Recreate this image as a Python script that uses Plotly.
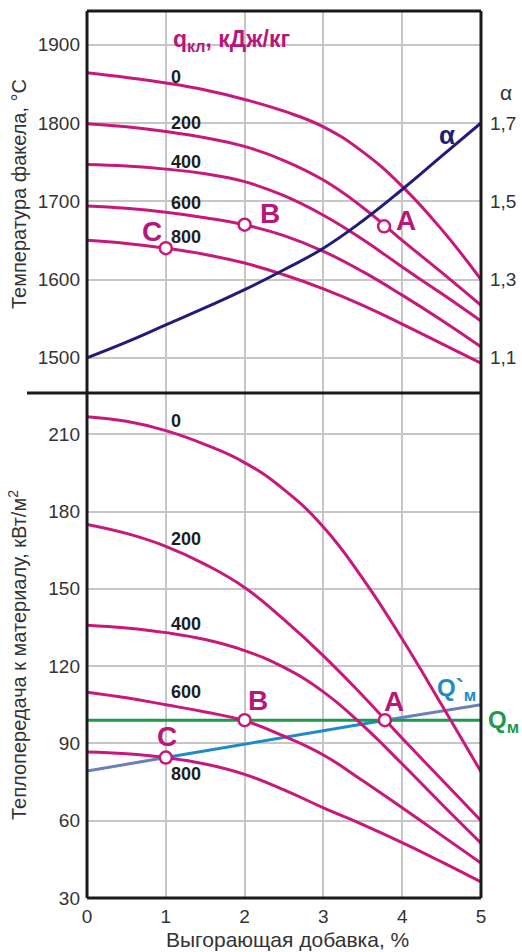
import plotly.graph_objects as go

# ---------------- data ----------------
x_pct = [0, 0.5, 1, 1.5, 2, 2.5, 3, 3.5, 4, 4.5, 5]
q_labels = ["0", "200", "400", "600", "800"]

# top panel: flame temperature, °C
T_q0 = [1864, 1858, 1851, 1842, 1830, 1815, 1795, 1763, 1719, 1664, 1600]
T_q200 = [1799, 1795, 1789, 1781, 1770, 1752, 1727, 1692, 1650, 1609, 1567]
T_q400 = [1747, 1745, 1741, 1735, 1725, 1707, 1682, 1651, 1616, 1582, 1547]
T_q600 = [1694, 1691, 1686, 1679, 1670, 1656, 1636, 1610, 1580, 1548, 1514]
T_q800 = [1650, 1646, 1640, 1632, 1621, 1606, 1588, 1567, 1543, 1518, 1493]
alpha = [1.10, 1.14, 1.184, 1.228, 1.274, 1.325, 1.38, 1.45, 1.53, 1.615, 1.70]

# bottom panel: heat transfer to material, kW/m2
Q_q0 = [216.8, 215, 211.4, 206, 199, 188.5, 174, 154, 130.5, 105, 79]
Q_q200 = [175, 171.5, 166.5, 159.5, 150.5, 138, 124, 108.5, 92, 76, 60]
Q_q400 = [135.9, 134.8, 133, 130.3, 126, 119.5, 110, 97, 82, 66.5, 51.3]
Q_q600 = [109.9, 107.7, 105, 102.2, 98.8, 92.8, 85.5, 75.5, 65, 54.3, 43.6]
Q_q800 = [86.7, 86, 84.5, 82, 78, 72, 65, 58.5, 51.5, 44, 36.2]

Qm_x = [0, 5]
Qm = [99, 99]
Qmp_x = [0, 1, 3.78, 5]
Qmp = [79.3, 84.5, 99, 105]

# points A, B, C
pt_names = ["A", "B", "C"]
pt_x_top = [3.77, 2.0, 1.0]
pt_T = [1668, 1670, 1640]
pt_x_bot = [3.78, 2.0, 1.0]
pt_Q = [99, 99, 84.5]

# ticks
x_ticks = [0, 1, 2, 3, 4, 5]
T_ticks = [1500, 1600, 1700, 1800, 1900]
Q_ticks = [30, 60, 90, 120, 150, 180, 210]
a_ticks = [1.1, 1.3, 1.5, 1.7]
a_ticktext = ["1,1", "1,3", "1,5", "1,7"]

# ---------------- styles ----------------
PINK = "#c8187c"
NAVY = "#221c78"
GREEN = "#1d9a4a"
BLUE = "#1f8ac8"
GREYBLUE = "#6c7fb8"
GRID = "#c6c6c6"
TXT = "#333333"
FONT = "Liberation Sans, Arial, sans-serif"

T_range = [1455, 1943]
a_range = [1.1 + (T_range[0] - 1500) * 0.002, 1.1 + (T_range[1] - 1500) * 0.002]
split = 505 / 887

fig = go.Figure()
spl = dict(shape="spline", smoothing=1.3)

# top panel curves
for T in [T_q0, T_q200, T_q400, T_q600, T_q800]:
    fig.add_trace(go.Scatter(x=x_pct, y=T, xaxis="x2", yaxis="y2", mode="lines",
                             line=dict(color=PINK, width=3, **spl), showlegend=False))
fig.add_trace(go.Scatter(x=x_pct, y=alpha, xaxis="x2", yaxis="y3", mode="lines",
                         line=dict(color=NAVY, width=3, **spl), showlegend=False))
fig.add_trace(go.Scatter(x=pt_x_top, y=pt_T, xaxis="x2", yaxis="y2", mode="markers",
                         marker=dict(size=12, color="white", line=dict(color=PINK, width=2.5)),
                         showlegend=False))

# bottom panel lines
fig.add_trace(go.Scatter(x=Qmp_x[0:2], y=Qmp[0:2], mode="lines",
                         line=dict(color=GREYBLUE, width=3), showlegend=False))
fig.add_trace(go.Scatter(x=Qmp_x[1:3], y=Qmp[1:3], mode="lines",
                         line=dict(color=BLUE, width=3), showlegend=False))
fig.add_trace(go.Scatter(x=Qmp_x[2:4], y=Qmp[2:4], mode="lines",
                         line=dict(color=GREYBLUE, width=3), showlegend=False))
fig.add_trace(go.Scatter(x=Qm_x, y=Qm, mode="lines",
                         line=dict(color=GREEN, width=3), showlegend=False))
for Q in [Q_q0, Q_q200, Q_q400, Q_q600, Q_q800]:
    fig.add_trace(go.Scatter(x=x_pct, y=Q, mode="lines",
                             line=dict(color=PINK, width=3, **spl), showlegend=False))
fig.add_trace(go.Scatter(x=pt_x_bot, y=pt_Q, mode="markers",
                         marker=dict(size=12, color="white", line=dict(color=PINK, width=2.5)),
                         showlegend=False))

# ---------------- annotations ----------------
ann = []
lab_font = dict(family=FONT, size=18, color="#1e1e1e")
top_lab_y = [1859, 1800, 1750, 1698, 1654]
bot_lab_y = [215.3, 169.2, 136.3, 109.8, 78.2]
for t, yt, yb in zip(q_labels, top_lab_y, bot_lab_y):
    ann.append(dict(x=1.04, y=yt, xref="x2", yref="y2", text="<b>%s</b>" % t, showarrow=False,
                    xanchor="left", yanchor="middle", font=lab_font))
    ann.append(dict(x=1.04, y=yb, xref="x", yref="y", text="<b>%s</b>" % t, showarrow=False,
                    xanchor="left", yanchor="middle", font=lab_font))

big = dict(family=FONT, size=28, color="#b8167a")
C = dict(xanchor="center", yanchor="middle", showarrow=False)
ann += [
    dict(x=4.05, y=1675, xref="x2", yref="y2", text="<b>A</b>", font=big, **C),
    dict(x=2.32, y=1684, xref="x2", yref="y2", text="<b>B</b>", font=big, **C),
    dict(x=0.82, y=1661, xref="x2", yref="y2", text="<b>C</b>", font=big, **C),
    dict(x=3.9, y=106.4, xref="x", yref="y", text="<b>A</b>", font=big, **C),
    dict(x=2.17, y=106.8, xref="x", yref="y", text="<b>B</b>", font=big, **C),
    dict(x=1.02, y=92.5, xref="x", yref="y", text="<b>C</b>", font=big, **C),
    dict(x=4.57, y=1784, xref="x2", yref="y2", text="<b>α</b>",
         font=dict(family=FONT, size=26, color=NAVY), **C),
    dict(x=1.06, y=1905, xref="x2", yref="y2", xanchor="left", yanchor="middle",
         text="<b>q<sub>кл</sub>, кДж/кг</b>", showarrow=False,
         font=dict(family=FONT, size=23, color="#b8167a")),
    dict(x=4.42, y=111, xref="x", yref="y", xanchor="left", yanchor="middle",
         text="<b>Q`<sub>м</sub></b>", showarrow=False,
         font=dict(family=FONT, size=24, color=BLUE)),
    dict(x=1.012, y=98.5, xref="paper", yref="y", xanchor="left", yanchor="middle",
         text="<b>Q<sub>м</sub></b>", showarrow=False,
         font=dict(family=FONT, size=24, color=GREEN)),
    dict(x=(506 - 87) / 394, y=(898 - 92) / 887, xref="paper", yref="paper",
         text="α", font=dict(family=FONT, size=21, color=TXT), **C),
    dict(x=(19 - 87) / 394, y=(898 - 194) / 887, xref="paper", yref="paper",
         text="Температура факела, °С", textangle=-90,
         font=dict(family=FONT, size=20, color=TXT), **C),
    dict(x=(17 - 87) / 394, y=(898 - 655) / 887, xref="paper", yref="paper",
         text="Теплопередача к материалу, кВт/м<sup>2</sup>", textangle=-90,
         font=dict(family=FONT, size=20, color=TXT), **C),
    dict(x=(287 - 87) / 394, y=(898 - 940) / 887, xref="paper", yref="paper",
         text="Выгорающая добавка, %",
         font=dict(family=FONT, size=21, color=TXT), **C),
]

# ---------------- frame ----------------
BK = "#1a1a1a"
shapes = [
    dict(type="line", xref="paper", yref="paper", x0=0, x1=0, y0=0, y1=1, line=dict(color=BK, width=3)),
    dict(type="line", xref="paper", yref="paper", x0=1, x1=1, y0=0, y1=1, line=dict(color=BK, width=3)),
    dict(type="line", xref="paper", yref="paper", x0=0, x1=1, y0=1, y1=1, line=dict(color=BK, width=3)),
    dict(type="line", xref="paper", yref="paper", x0=0, x1=1, y0=0, y1=0, line=dict(color=BK, width=3)),
    dict(type="line", xref="paper", yref="paper", x0=(27 - 87) / 394, x1=1, y0=split, y1=split,
         line=dict(color=BK, width=3)),
]

tickfont = dict(family=FONT, size=19, color=TXT)
common = dict(zeroline=False, showline=False, ticks="", automargin=False)
fig.update_layout(
    width=522, height=952,
    margin=dict(l=87, r=41, t=11, b=54, autoexpand=False),
    paper_bgcolor="white", plot_bgcolor="white",
    showlegend=False,
    annotations=ann, shapes=shapes,
    xaxis=dict(domain=[0, 1], range=[0, 5], tickvals=x_ticks, showgrid=True, gridcolor=GRID,
               gridwidth=1.5, tickfont=tickfont, ticklabelstandoff=5, **common),
    yaxis=dict(domain=[0, split], range=[30, 226], tickvals=Q_ticks, showgrid=True, gridcolor=GRID,
               gridwidth=1.5, tickfont=tickfont, ticklabelstandoff=6, **common),
    xaxis2=dict(domain=[0, 1], range=[0, 5], anchor="y2", tickvals=x_ticks, showticklabels=False,
                showgrid=True, gridcolor=GRID, gridwidth=1.5, **common),
    yaxis2=dict(domain=[split, 1], range=T_range, anchor="x2", tickvals=T_ticks, showgrid=True,
                gridcolor=GRID, gridwidth=1.5, tickfont=tickfont, ticklabelstandoff=6, **common),
    yaxis3=dict(domain=[split, 1], range=a_range, anchor="x2", overlaying="y2", side="right",
                tickvals=a_ticks, ticktext=a_ticktext, showgrid=False,
                tickfont=tickfont, ticklabelstandoff=8, **common),
)

fig.write_html("out.html", config={"displayModeBar": False})

# remove the default page margin so the figure sits at the window's top-left corner
with open("out.html", "r", encoding="utf-8") as f:
    html = f.read()
html = html.replace("<head>", "<head><style>html,body{margin:0;padding:0;overflow:hidden;}</style>", 1)
with open("out.html", "w", encoding="utf-8") as f:
    f.write(html)
